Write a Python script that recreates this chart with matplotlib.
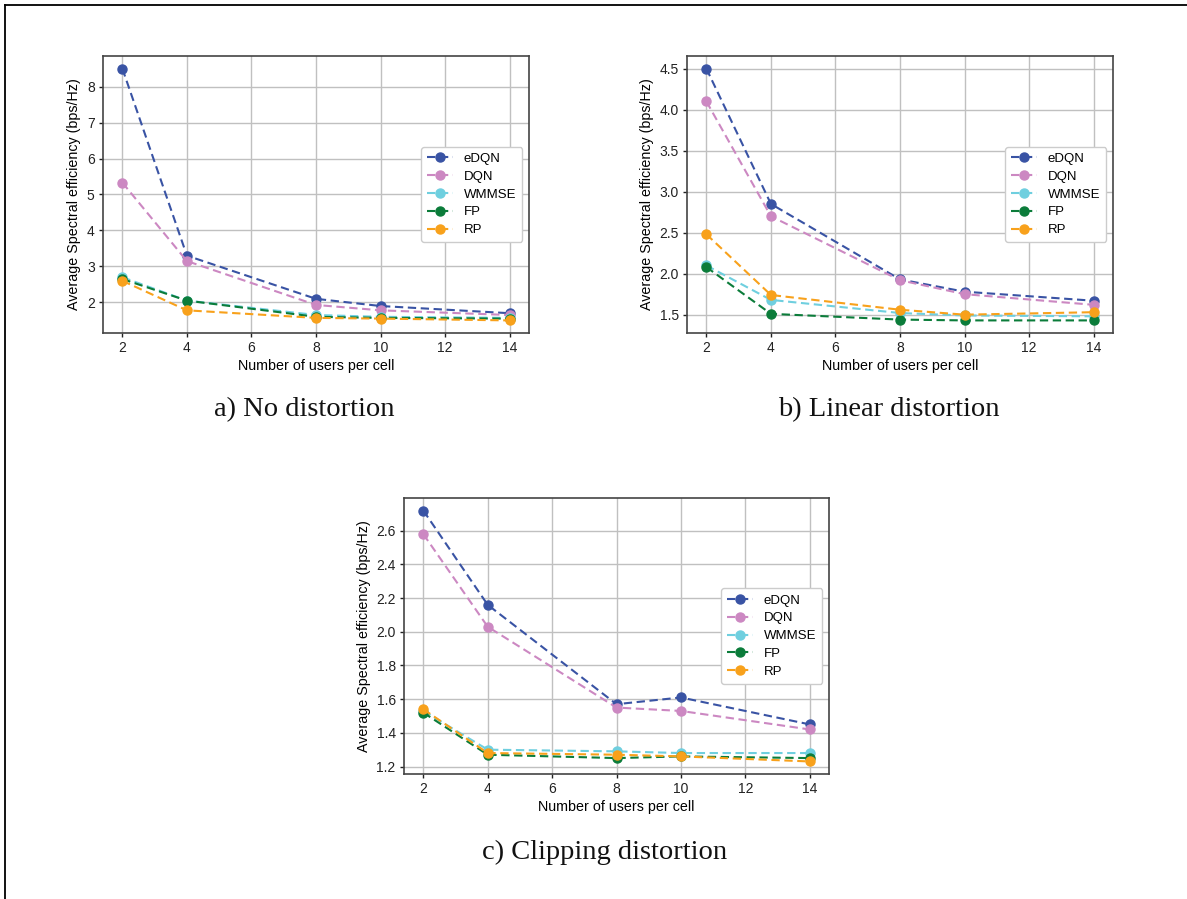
import matplotlib
matplotlib.use("Agg")
import matplotlib.pyplot as plt
from matplotlib.lines import Line2D

users = [2, 4, 8, 10, 14]
methods = ["eDQN", "DQN", "WMMSE", "FP", "RP"]
colors = ["#3953a4", "#cc88c2", "#6fcfdf", "#0b7c3a", "#f8a11b"]

# a) No distortion
a_edqn = [8.5, 3.3, 2.1, 1.9, 1.7]
a_dqn = [5.33, 3.15, 1.93, 1.78, 1.65]
a_wmmse = [2.7, 2.05, 1.65, 1.6, 1.57]
a_fp = [2.65, 2.05, 1.6, 1.57, 1.55]
a_rp = [2.6, 1.78, 1.57, 1.55, 1.5]

# b) Linear distortion
b_edqn = [4.5, 2.85, 1.93, 1.78, 1.67]
b_dqn = [4.1, 2.7, 1.92, 1.75, 1.62]
b_wmmse = [2.1, 1.68, 1.52, 1.49, 1.48]
b_fp = [2.08, 1.51, 1.44, 1.43, 1.43]
b_rp = [2.48, 1.74, 1.56, 1.5, 1.53]

# c) Clipping distortion
c_edqn = [2.72, 2.16, 1.57, 1.61, 1.45]
c_dqn = [2.58, 2.03, 1.55, 1.53, 1.42]
c_wmmse = [1.53, 1.30, 1.29, 1.28, 1.28]
c_fp = [1.52, 1.27, 1.25, 1.26, 1.25]
c_rp = [1.54, 1.28, 1.27, 1.26, 1.23]

captions = ["a) No distortion", "b) Linear distortion", "c) Clipping distortion"]
xticks = [2, 4, 6, 8, 10, 12, 14]
xlabel = "Number of users per cell"
ylabel = "Average Spectral efficiency (bps/Hz)"

W, H = 1187, 899
fig = plt.figure(figsize=(W / 100, H / 100), dpi=100)
plt.rcParams['font.family'] = ['Liberation Sans', 'DejaVu Sans']


def px_axes(l, t, r, b):
    return fig.add_axes([l / W, 1 - b / H, (r - l) / W, (b - t) / H])


def draw(ax, data, yticks, yfmt):
    for vals, name, c in zip(data, methods, colors):
        ax.plot(users, vals, linestyle="--", marker="o", color=c, label=name,
                markersize=6.5, linewidth=1.5, dashes=(4, 2.2))
    ax.set_xticks(xticks)
    ax.set_yticks(yticks)
    ax.set_yticklabels([yfmt.format(v) for v in yticks])
    ax.grid(True, color="#c0c0c0", linewidth=1.0)
    ax.set_axisbelow(True)
    for s in ax.spines.values():
        s.set_color("#444444")
        s.set_linewidth(1.2)
    ax.tick_params(labelsize=10, colors="#222222", length=3, width=1, direction="out", pad=3)
    ax.set_xlabel(xlabel, fontsize=10.3, labelpad=3)
    ax.set_ylabel(ylabel, fontsize=10.3, labelpad=4)
    leg = ax.legend(loc="center right", fontsize=9.5, frameon=True, fancybox=True,
                    edgecolor="#cccccc", framealpha=1.0, borderpad=0.45,
                    labelspacing=0.42, handlelength=2.0, borderaxespad=0.5)
    leg.get_frame().set_linewidth(1.0)


ax1 = px_axes(103, 56, 529, 333)
draw(ax1, [a_edqn, a_dqn, a_wmmse, a_fp, a_rp], [2, 3, 4, 5, 6, 7, 8], "{:g}")

ax2 = px_axes(687, 56, 1113, 333)
draw(ax2, [b_edqn, b_dqn, b_wmmse, b_fp, b_rp], [1.5, 2.0, 2.5, 3.0, 3.5, 4.0, 4.5], "{:.1f}")

ax3 = px_axes(404, 498, 829, 774)
draw(ax3, [c_edqn, c_dqn, c_wmmse, c_fp, c_rp], [1.2, 1.4, 1.6, 1.8, 2.0, 2.2, 2.4, 2.6], "{:.1f}")

for (cx, cy), txt in zip([(304, 410), (889, 410), (605, 852)], captions):
    fig.text(cx / W, 1 - cy / H, txt, ha="center", va="center",
             fontsize=20.5, family=["Liberation Serif", "DejaVu Serif"], color="#111111")

# page border lines (top and left)
fig.add_artist(Line2D([5 / W, 1], [1 - 4.5 / H, 1 - 4.5 / H], color="black", linewidth=1.3,
                      transform=fig.transFigure))
fig.add_artist(Line2D([5 / W, 5 / W], [0, 1 - 4.5 / H], color="black", linewidth=1.3,
                      transform=fig.transFigure))

fig.savefig("out.png", dpi=100)
